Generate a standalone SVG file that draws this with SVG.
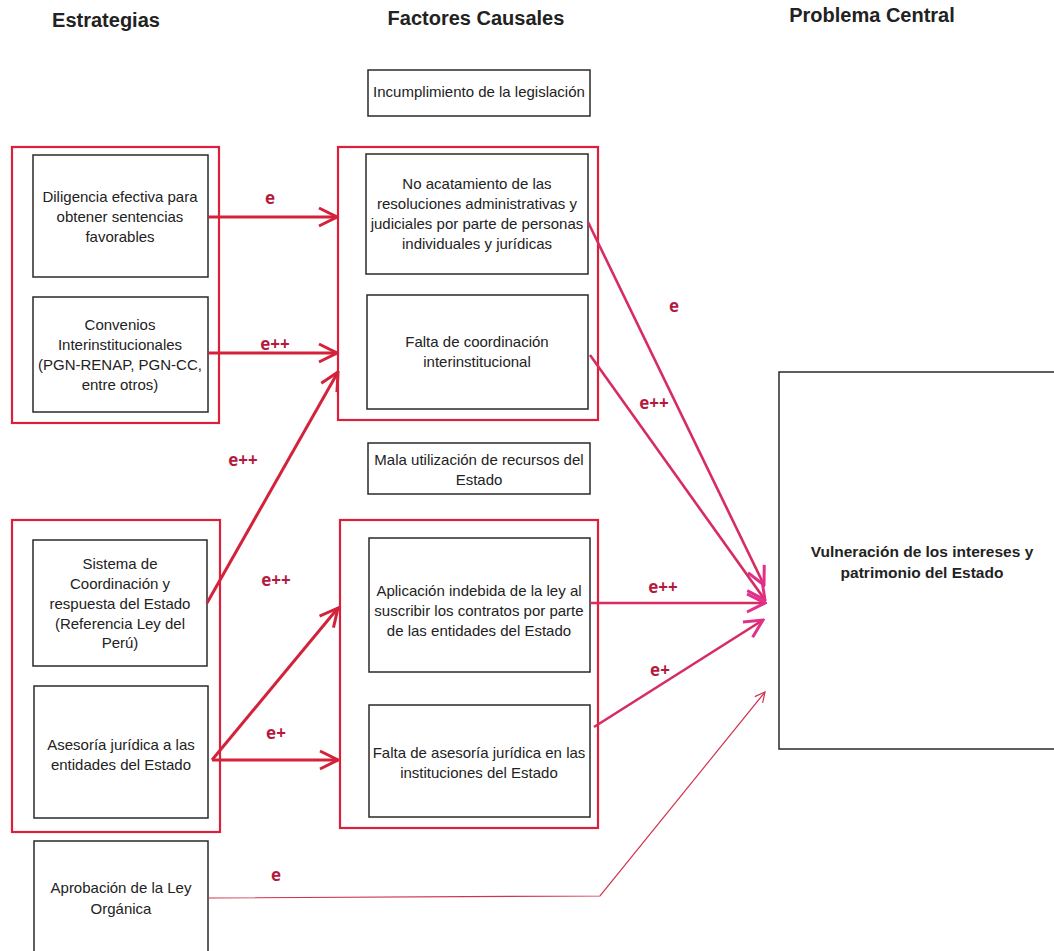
<svg xmlns="http://www.w3.org/2000/svg" width="1054" height="951" viewBox="0 0 1054 951">
<style>
.hdr{font-family:"Liberation Sans",Arial,sans-serif;font-weight:bold;font-size:20px;fill:#222;text-anchor:middle}
.t{font-family:"Liberation Sans",Arial,sans-serif;font-size:15px;fill:#222;text-anchor:middle}
.tb{font-family:"Liberation Sans",Arial,sans-serif;font-size:15.5px;font-weight:bold;fill:#222;text-anchor:middle}
.box{fill:#fff;stroke:#2a2a2a;stroke-width:1.5}
.grp{fill:none;stroke:#dc1f3a;stroke-width:2.2}
.lbl{font-family:"Open Sans","Liberation Sans",sans-serif;font-weight:bold;font-size:17px;fill:#b51a3e;text-anchor:middle}
.red{fill:none;stroke:#d3223a;stroke-width:3}
.mag{fill:none;stroke:#d62c62;stroke-width:2.6}
.thin{fill:none;stroke:#d0334f;stroke-width:1.2}
</style>
<defs>
<marker id="arRed" viewBox="0 0 22 22" refX="20" refY="11" markerWidth="22" markerHeight="22" markerUnits="userSpaceOnUse" orient="auto">
<path d="M2,2 L20,11 L2,20" fill="none" stroke="#d3223a" stroke-width="3"/>
</marker>
<marker id="arMag" viewBox="0 0 22 22" refX="20" refY="11" markerWidth="22" markerHeight="22" markerUnits="userSpaceOnUse" orient="auto">
<path d="M2,2 L20,11 L2,20" fill="none" stroke="#e0308a" stroke-width="3"/>
</marker>
<marker id="arThin" viewBox="0 0 12 12" refX="11" refY="6" markerWidth="12" markerHeight="12" markerUnits="userSpaceOnUse" orient="auto">
<path d="M1,1 L11,6 L1,11" fill="none" stroke="#d0334f" stroke-width="1.2"/>
</marker>
</defs>
<rect width="1054" height="951" fill="#fff"/>

<g id="headers">
<text class="hdr" x="106" y="27">Estrategias</text>
<text class="hdr" x="476" y="25">Factores Causales</text>
<text class="hdr" x="872" y="22">Problema Central</text>
</g>

<g id="grupo-estrategias-1"><rect class="grp" x="12" y="147" width="207" height="276"/></g>
<g id="grupo-factores-1"><rect class="grp" x="338" y="147" width="260" height="273"/></g>
<g id="grupo-estrategias-2"><rect class="grp" x="12" y="520" width="208" height="312"/></g>
<g id="grupo-factores-2"><rect class="grp" x="340" y="520" width="258" height="308"/></g>

<g id="incumplimiento">
<rect class="box" x="368" y="70" width="222" height="46"/>
<text class="t" x="479" y="97">Incumplimiento de la legislación</text>
</g>

<g id="diligencia">
<rect class="box" x="33" y="155" width="175" height="122"/>
<text class="t" x="120" y="202">Diligencia efectiva para</text>
<text class="t" x="120" y="222">obtener sentencias</text>
<text class="t" x="120" y="242">favorables</text>
</g>

<g id="convenios">
<rect class="box" x="33" y="297" width="175" height="115"/>
<text class="t" x="120" y="330">Convenios</text>
<text class="t" x="120" y="350">Interinstitucionales</text>
<text class="t" x="120" y="370">(PGN-RENAP, PGN-CC,</text>
<text class="t" x="120" y="390">entre otros)</text>
</g>

<g id="no-acatamiento">
<rect class="box" x="366" y="154" width="222" height="120"/>
<text class="t" x="477" y="189">No acatamiento de las</text>
<text class="t" x="477" y="209">resoluciones administrativas  y</text>
<text class="t" x="477" y="229">judiciales por parte de personas</text>
<text class="t" x="477" y="249">individuales y jurídicas</text>
</g>

<g id="falta-coordinacion">
<rect class="box" x="367" y="295" width="221" height="114"/>
<text class="t" x="477" y="347">Falta de coordinación</text>
<text class="t" x="477" y="367">interinstitucional</text>
</g>

<g id="mala-utilizacion">
<rect class="box" x="368" y="443" width="222" height="51"/>
<text class="t" x="479" y="465">Mala utilización de recursos del</text>
<text class="t" x="479" y="485">Estado</text>
</g>

<g id="sistema">
<rect class="box" x="33" y="540" width="174" height="126"/>
<text class="t" x="120" y="569">Sistema de</text>
<text class="t" x="120" y="589">Coordinación y</text>
<text class="t" x="120" y="609">respuesta del Estado</text>
<text class="t" x="120" y="629">(Referencia Ley del</text>
<text class="t" x="120" y="648">Perú)</text>
</g>

<g id="asesoria">
<rect class="box" x="34" y="686" width="174" height="132"/>
<text class="t" x="121" y="750">Asesoría jurídica a las</text>
<text class="t" x="121" y="770">entidades del Estado</text>
</g>

<g id="aplicacion">
<rect class="box" x="369" y="538" width="221" height="134"/>
<text class="t" x="479" y="596">Aplicación indebida de la ley al</text>
<text class="t" x="479" y="616">suscribir los contratos por parte</text>
<text class="t" x="479" y="636">de las entidades del Estado</text>
</g>

<g id="falta-asesoria">
<rect class="box" x="369" y="705" width="221" height="112"/>
<text class="t" x="479" y="758">Falta de asesoría jurídica en las</text>
<text class="t" x="479" y="778">instituciones del Estado</text>
</g>

<g id="aprobacion">
<rect class="box" x="34" y="841" width="174" height="120"/>
<text class="t" x="121" y="893">Aprobación de la Ley</text>
<text class="t" x="121" y="914">Orgánica</text>
</g>

<g id="vulneracion">
<rect class="box" x="779" y="372" width="285" height="377"/>
<text class="tb" x="922" y="557">Vulneración de los intereses y</text>
<text class="tb" x="922" y="578">patrimonio del Estado</text>
</g>

<g id="connectors">
<path class="red" d="M208,217 L337,217" marker-end="url(#arRed)"/>
<path class="red" d="M208,353 L337,353" marker-end="url(#arRed)"/>
<path class="red" d="M207,603 L338,372" marker-end="url(#arRed)"/>
<path class="red" d="M212,760 L338,608" marker-end="url(#arRed)"/>
<path class="red" d="M212,760 L338,760" marker-end="url(#arRed)"/>
<path class="mag" d="M588,222 L764,585" marker-end="url(#arMag)"/>
<path class="mag" d="M590,355 L765,600" marker-end="url(#arMag)"/>
<path class="mag" d="M590,603 L765,603" marker-end="url(#arMag)"/>
<path class="mag" d="M594,727 L763,620" marker-end="url(#arMag)"/>
<path class="thin" d="M208,898 L600,896 L765,692" marker-end="url(#arThin)"/>
</g>

<g id="labels">
<text class="lbl" x="270" y="204">e</text>
<text class="lbl" x="275" y="350">e++</text>
<text class="lbl" x="243" y="466">e++</text>
<text class="lbl" x="276" y="586">e++</text>
<text class="lbl" x="276" y="739">e+</text>
<text class="lbl" x="674" y="312">e</text>
<text class="lbl" x="654" y="409">e++</text>
<text class="lbl" x="663" y="593">e++</text>
<text class="lbl" x="660" y="676">e+</text>
<text class="lbl" x="276" y="881">e</text>
</g>
</svg>
